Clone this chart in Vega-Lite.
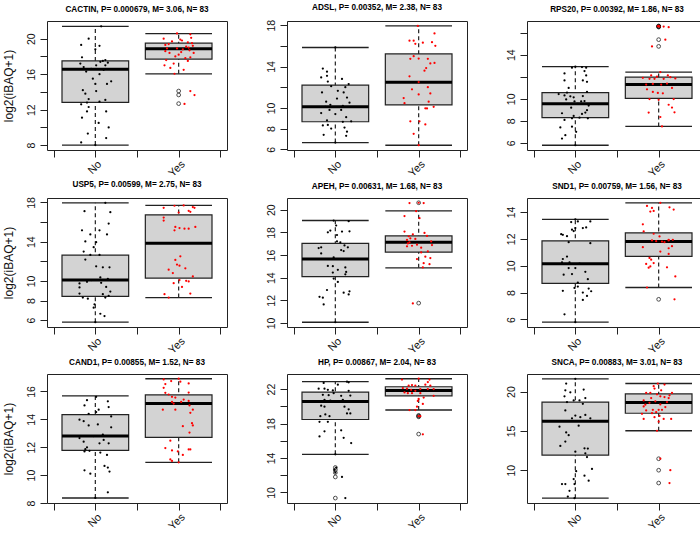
{
"$schema":"https://vega.github.io/schema/vega-lite/v6.json",
"background":"white",
"padding":{"left":1,"top":2,"right":0,"bottom":0},
"config":{
 "font":"Liberation Sans",
 "view":{"stroke":"#222","strokeWidth":1},
 "axis":{"domain":false,"grid":false,"tickColor":"#222","tickSize":7,"tickWidth":1,"labelColor":"#111","labelFont":"Liberation Sans","titleFont":"Liberation Sans","titleFontWeight":"normal","titleColor":"#111"},
 "axisX":{"labelAngle":-45,"labelFontSize":11,"labelPadding":1},
 "axisY":{"labelAngle":-90,"labelFontSize":10.5,"labelPadding":4,"titleFontSize":12,"titlePadding":11},
 "title":{"font":"Liberation Sans","fontSize":8.2,"fontWeight":"bold","color":"#000","offset":7,"anchor":"middle"}
},
"datasets":{
"box":[
{"g":"CACTIN","s":"No","lo":8.0,"q1":12.83,"med":16.57,"q3":17.51,"hi":21.4},
{"g":"CACTIN","s":"Yes","lo":16.04,"q1":17.7,"med":18.87,"q3":19.5,"hi":20.57},
{"g":"ADSL","s":"No","lo":6.65,"q1":8.66,"med":10.12,"q3":12.2,"hi":15.84},
{"g":"ADSL","s":"Yes","lo":6.39,"q1":10.29,"med":12.49,"q3":15.22,"hi":17.92},
{"g":"RPS20","s":"No","lo":5.79,"q1":8.29,"med":9.55,"q3":10.56,"hi":12.91},
{"g":"RPS20","s":"Yes","lo":7.5,"q1":10.04,"med":11.29,"q3":11.96,"hi":12.42},
{"g":"USP5","s":"No","lo":5.79,"q1":8.43,"med":10.08,"q3":12.62,"hi":17.96},
{"g":"USP5","s":"Yes","lo":8.3,"q1":10.29,"med":13.85,"q3":16.73,"hi":17.69},
{"g":"APEH","s":"No","lo":10.06,"q1":14.1,"med":15.64,"q3":17.03,"hi":19.05},
{"g":"APEH","s":"Yes","lo":14.87,"q1":16.26,"med":17.12,"q3":17.69,"hi":19.91},
{"g":"SND1","s":"No","lo":5.8,"q1":8.68,"med":10.15,"q3":11.85,"hi":13.45},
{"g":"SND1","s":"Yes","lo":8.38,"q1":10.7,"med":11.8,"q3":12.45,"hi":14.68},
{"g":"CAND1","s":"No","lo":8.36,"q1":11.77,"med":12.8,"q3":14.33,"hi":15.68},
{"g":"CAND1","s":"Yes","lo":10.92,"q1":12.71,"med":15.13,"q3":15.75,"hi":16.91},
{"g":"HP","s":"No","lo":14.43,"q1":18.47,"med":20.55,"q3":21.65,"hi":22.86},
{"g":"HP","s":"Yes","lo":19.57,"q1":21.22,"med":21.84,"q3":22.27,"hi":23.2},
{"g":"SNCA","s":"No","lo":6.44,"q1":11.93,"med":16.22,"q3":18.67,"hi":21.63},
{"g":"SNCA","s":"Yes","lo":15.02,"q1":17.25,"med":18.63,"q3":19.7,"hi":21.03}
],
"out":[
{"g":"CACTIN","s":"Yes","v":14.1},{"g":"CACTIN","s":"Yes","v":13.66},{"g":"CACTIN","s":"Yes","v":12.68},
{"g":"RPS20","s":"Yes","v":16.6},{"g":"RPS20","s":"Yes","v":16.57},{"g":"RPS20","s":"Yes","v":16.54},{"g":"RPS20","s":"Yes","v":16.5},{"g":"RPS20","s":"Yes","v":15.36},{"g":"RPS20","s":"Yes","v":14.75},
{"g":"APEH","s":"Yes","v":20.62},{"g":"APEH","s":"Yes","v":11.75},
{"g":"SND1","s":"Yes","v":7.5},
{"g":"HP","s":"No","v":12.9},{"g":"HP","s":"No","v":12.63},{"g":"HP","s":"No","v":12.31},{"g":"HP","s":"No","v":11.8},{"g":"HP","s":"No","v":9.35},
{"g":"HP","s":"Yes","v":18.95},{"g":"HP","s":"Yes","v":18.86},{"g":"HP","s":"Yes","v":18.78},{"g":"HP","s":"Yes","v":16.78},
{"g":"SNCA","s":"Yes","v":11.46},{"g":"SNCA","s":"Yes","v":10.0},{"g":"SNCA","s":"Yes","v":8.37}
],
"pts":[
{"g":"CACTIN","s":"No","v":21.4,"j":0.07},{"g":"CACTIN","s":"No","v":20.0,"j":-0.08},{"g":"CACTIN","s":"No","v":19.3,"j":-0.17},{"g":"CACTIN","s":"No","v":19.2,"j":0.05},{"g":"CACTIN","s":"No","v":18.8,"j":0.0},{"g":"CACTIN","s":"No","v":17.9,"j":-0.16},{"g":"CACTIN","s":"No","v":17.6,"j":0.12},{"g":"CACTIN","s":"No","v":17.5,"j":0.09},{"g":"CACTIN","s":"No","v":17.4,"j":0.06},{"g":"CACTIN","s":"No","v":17.2,"j":-0.18},{"g":"CACTIN","s":"No","v":17.0,"j":0.01},{"g":"CACTIN","s":"No","v":17.0,"j":0.12},{"g":"CACTIN","s":"No","v":16.6,"j":-0.05},{"g":"CACTIN","s":"No","v":16.5,"j":0.1},{"g":"CACTIN","s":"No","v":16.3,"j":-0.11},{"g":"CACTIN","s":"No","v":15.2,"j":0.19},{"g":"CACTIN","s":"No","v":14.9,"j":0.0},{"g":"CACTIN","s":"No","v":14.9,"j":0.14},{"g":"CACTIN","s":"No","v":14.2,"j":-0.15},{"g":"CACTIN","s":"No","v":14.1,"j":0.01},{"g":"CACTIN","s":"No","v":13.2,"j":-0.08},{"g":"CACTIN","s":"No","v":13.1,"j":0.12},{"g":"CACTIN","s":"No","v":12.9,"j":0.05},{"g":"CACTIN","s":"No","v":12.8,"j":-0.1},{"g":"CACTIN","s":"No","v":12.6,"j":-0.17},{"g":"CACTIN","s":"No","v":12.3,"j":-0.08},{"g":"CACTIN","s":"No","v":11.8,"j":-0.1},{"g":"CACTIN","s":"No","v":11.8,"j":0.13},{"g":"CACTIN","s":"No","v":11.1,"j":-0.16},{"g":"CACTIN","s":"No","v":10.0,"j":0.16},{"g":"CACTIN","s":"No","v":9.3,"j":-0.09},{"g":"CACTIN","s":"No","v":8.8,"j":0.13},{"g":"CACTIN","s":"No","v":8.3,"j":-0.17},{"g":"CACTIN","s":"No","v":8.0,"j":0.0},{"g":"CACTIN","s":"No","v":16.0,"j":0.05},{"g":"CACTIN","s":"No","v":15.5,"j":-0.03},{"g":"CACTIN","s":"No","v":17.3,"j":0.15},{"g":"CACTIN","s":"No","v":13.8,"j":-0.12},{"g":"CACTIN","s":"No","v":16.8,"j":-0.14},{"g":"CACTIN","s":"No","v":10.5,"j":0.04},
{"g":"CACTIN","s":"Yes","v":20.6,"j":-0.02},{"g":"CACTIN","s":"Yes","v":20.5,"j":0.14},{"g":"CACTIN","s":"Yes","v":20.1,"j":0.15},{"g":"CACTIN","s":"Yes","v":20.0,"j":-0.18},{"g":"CACTIN","s":"Yes","v":19.9,"j":0.02},{"g":"CACTIN","s":"Yes","v":19.7,"j":-0.08},{"g":"CACTIN","s":"Yes","v":19.6,"j":0.11},{"g":"CACTIN","s":"Yes","v":19.5,"j":0.16},{"g":"CACTIN","s":"Yes","v":19.4,"j":-0.12},{"g":"CACTIN","s":"Yes","v":19.3,"j":-0.16},{"g":"CACTIN","s":"Yes","v":19.1,"j":0.09},{"g":"CACTIN","s":"Yes","v":18.9,"j":-0.02},{"g":"CACTIN","s":"Yes","v":18.8,"j":0.05},{"g":"CACTIN","s":"Yes","v":18.7,"j":0.13},{"g":"CACTIN","s":"Yes","v":18.6,"j":-0.16},{"g":"CACTIN","s":"Yes","v":18.4,"j":0.18},{"g":"CACTIN","s":"Yes","v":18.4,"j":-0.11},{"g":"CACTIN","s":"Yes","v":18.2,"j":0.0},{"g":"CACTIN","s":"Yes","v":18.0,"j":-0.04},{"g":"CACTIN","s":"Yes","v":17.8,"j":0.08},{"g":"CACTIN","s":"Yes","v":17.6,"j":-0.15},{"g":"CACTIN","s":"Yes","v":17.5,"j":0.11},{"g":"CACTIN","s":"Yes","v":17.2,"j":-0.06},{"g":"CACTIN","s":"Yes","v":17.0,"j":-0.17},{"g":"CACTIN","s":"Yes","v":16.7,"j":-0.1},{"g":"CACTIN","s":"Yes","v":16.5,"j":0.06},{"g":"CACTIN","s":"Yes","v":16.05,"j":-0.05},{"g":"CACTIN","s":"Yes","v":14.1,"j":0.14},{"g":"CACTIN","s":"Yes","v":13.65,"j":0.19},{"g":"CACTIN","s":"Yes","v":12.65,"j":0.07},{"g":"CACTIN","s":"Yes","v":19.0,"j":0.12},{"g":"CACTIN","s":"Yes","v":18.9,"j":-0.14},{"g":"CACTIN","s":"Yes","v":19.8,"j":0.04},{"g":"CACTIN","s":"Yes","v":18.5,"j":0.03},{"g":"CACTIN","s":"Yes","v":19.2,"j":0.17},{"g":"CACTIN","s":"Yes","v":17.9,"j":0.14},
{"g":"ADSL","s":"No","v":15.84,"j":0.0},{"g":"ADSL","s":"No","v":13.8,"j":-0.15},{"g":"ADSL","s":"No","v":13.5,"j":-0.1},{"g":"ADSL","s":"No","v":12.95,"j":-0.17},{"g":"ADSL","s":"No","v":13.1,"j":-0.1},{"g":"ADSL","s":"No","v":12.8,"j":0.08},{"g":"ADSL","s":"No","v":12.55,"j":-0.09},{"g":"ADSL","s":"No","v":12.3,"j":0.16},{"g":"ADSL","s":"No","v":12.1,"j":-0.05},{"g":"ADSL","s":"No","v":11.65,"j":0.03},{"g":"ADSL","s":"No","v":11.5,"j":-0.16},{"g":"ADSL","s":"No","v":11.5,"j":0.1},{"g":"ADSL","s":"No","v":10.9,"j":0.02},{"g":"ADSL","s":"No","v":10.6,"j":-0.11},{"g":"ADSL","s":"No","v":10.5,"j":0.17},{"g":"ADSL","s":"No","v":10.3,"j":-0.06},{"g":"ADSL","s":"No","v":10.2,"j":0.09},{"g":"ADSL","s":"No","v":9.8,"j":-0.07},{"g":"ADSL","s":"No","v":9.8,"j":0.07},{"g":"ADSL","s":"No","v":9.5,"j":-0.17},{"g":"ADSL","s":"No","v":9.4,"j":0.0},{"g":"ADSL","s":"No","v":9.1,"j":0.13},{"g":"ADSL","s":"No","v":8.8,"j":-0.1},{"g":"ADSL","s":"No","v":8.7,"j":0.19},{"g":"ADSL","s":"No","v":8.65,"j":0.09},{"g":"ADSL","s":"No","v":8.35,"j":-0.09},{"g":"ADSL","s":"No","v":8.3,"j":-0.15},{"g":"ADSL","s":"No","v":8.0,"j":-0.05},{"g":"ADSL","s":"No","v":8.1,"j":0.11},{"g":"ADSL","s":"No","v":7.7,"j":0.14},{"g":"ADSL","s":"No","v":7.4,"j":-0.14},{"g":"ADSL","s":"No","v":7.3,"j":0.13},{"g":"ADSL","s":"No","v":6.65,"j":0.0},{"g":"ADSL","s":"No","v":10.1,"j":-0.12},{"g":"ADSL","s":"No","v":11.0,"j":0.14},{"g":"ADSL","s":"No","v":12.0,"j":0.12},
{"g":"ADSL","s":"Yes","v":17.92,"j":-0.01},{"g":"ADSL","s":"Yes","v":17.2,"j":0.19},{"g":"ADSL","s":"Yes","v":16.5,"j":-0.11},{"g":"ADSL","s":"Yes","v":16.5,"j":-0.06},{"g":"ADSL","s":"Yes","v":16.2,"j":-0.04},{"g":"ADSL","s":"Yes","v":16.3,"j":0.05},{"g":"ADSL","s":"Yes","v":16.35,"j":0.16},{"g":"ADSL","s":"Yes","v":16.0,"j":0.2},{"g":"ADSL","s":"Yes","v":15.0,"j":-0.06},{"g":"ADSL","s":"Yes","v":14.75,"j":-0.1},{"g":"ADSL","s":"Yes","v":14.77,"j":0.0},{"g":"ADSL","s":"Yes","v":14.75,"j":0.11},{"g":"ADSL","s":"Yes","v":14.3,"j":0.14},{"g":"ADSL","s":"Yes","v":14.35,"j":0.19},{"g":"ADSL","s":"Yes","v":13.85,"j":0.09},{"g":"ADSL","s":"Yes","v":13.6,"j":0.07},{"g":"ADSL","s":"Yes","v":13.05,"j":-0.11},{"g":"ADSL","s":"Yes","v":12.5,"j":0.0},{"g":"ADSL","s":"Yes","v":12.0,"j":0.11},{"g":"ADSL","s":"Yes","v":11.8,"j":-0.08},{"g":"ADSL","s":"Yes","v":11.4,"j":0.14},{"g":"ADSL","s":"Yes","v":11.3,"j":0.0},{"g":"ADSL","s":"Yes","v":10.95,"j":-0.18},{"g":"ADSL","s":"Yes","v":10.45,"j":-0.17},{"g":"ADSL","s":"Yes","v":10.6,"j":0.12},{"g":"ADSL","s":"Yes","v":9.96,"j":0.08},{"g":"ADSL","s":"Yes","v":9.95,"j":0.1},{"g":"ADSL","s":"Yes","v":10.1,"j":0.18},{"g":"ADSL","s":"Yes","v":8.7,"j":-0.1},{"g":"ADSL","s":"Yes","v":8.7,"j":0.01},{"g":"ADSL","s":"Yes","v":8.4,"j":0.08},{"g":"ADSL","s":"Yes","v":7.5,"j":-0.06},{"g":"ADSL","s":"Yes","v":6.4,"j":0.0},
{"g":"RPS20","s":"No","v":12.82,"j":-0.04},{"g":"RPS20","s":"No","v":12.88,"j":0.08},{"g":"RPS20","s":"No","v":12.82,"j":0.13},{"g":"RPS20","s":"No","v":12.3,"j":-0.13},{"g":"RPS20","s":"No","v":12.51,"j":0.11},{"g":"RPS20","s":"No","v":12.12,"j":0.13},{"g":"RPS20","s":"No","v":11.66,"j":-0.13},{"g":"RPS20","s":"No","v":11.66,"j":0.09},{"g":"RPS20","s":"No","v":11.54,"j":0.14},{"g":"RPS20","s":"No","v":10.98,"j":-0.08},{"g":"RPS20","s":"No","v":10.62,"j":0.14},{"g":"RPS20","s":"No","v":10.43,"j":-0.2},{"g":"RPS20","s":"No","v":10.31,"j":-0.13},{"g":"RPS20","s":"No","v":10.22,"j":-0.06},{"g":"RPS20","s":"No","v":10.13,"j":-0.02},{"g":"RPS20","s":"No","v":10.25,"j":0.09},{"g":"RPS20","s":"No","v":9.94,"j":-0.11},{"g":"RPS20","s":"No","v":9.76,"j":-0.01},{"g":"RPS20","s":"No","v":9.76,"j":0.07},{"g":"RPS20","s":"No","v":9.79,"j":0.11},{"g":"RPS20","s":"No","v":9.39,"j":0.16},{"g":"RPS20","s":"No","v":8.97,"j":0.14},{"g":"RPS20","s":"No","v":8.69,"j":-0.16},{"g":"RPS20","s":"No","v":8.75,"j":0.12},{"g":"RPS20","s":"No","v":8.63,"j":0.08},{"g":"RPS20","s":"No","v":8.45,"j":-0.02},{"g":"RPS20","s":"No","v":8.29,"j":0.05},{"g":"RPS20","s":"No","v":8.23,"j":0.15},{"g":"RPS20","s":"No","v":8.08,"j":-0.13},{"g":"RPS20","s":"No","v":8.23,"j":-0.04},{"g":"RPS20","s":"No","v":7.41,"j":-0.18},{"g":"RPS20","s":"No","v":7.47,"j":-0.04},{"g":"RPS20","s":"No","v":7.01,"j":0.01},{"g":"RPS20","s":"No","v":6.7,"j":-0.12},{"g":"RPS20","s":"No","v":6.4,"j":-0.16},{"g":"RPS20","s":"No","v":5.79,"j":0.0},{"g":"RPS20","s":"No","v":9.55,"j":0.03},{"g":"RPS20","s":"No","v":10.56,"j":-0.1},{"g":"RPS20","s":"No","v":12.91,"j":0.0},{"g":"RPS20","s":"No","v":9.2,"j":-0.05},
{"g":"RPS20","s":"Yes","v":16.6,"j":0.0},{"g":"RPS20","s":"Yes","v":16.57,"j":-0.01},{"g":"RPS20","s":"Yes","v":16.54,"j":0.01},{"g":"RPS20","s":"Yes","v":16.55,"j":0.06},{"g":"RPS20","s":"Yes","v":16.49,"j":0.12},{"g":"RPS20","s":"Yes","v":15.36,"j":0.08},{"g":"RPS20","s":"Yes","v":14.75,"j":-0.08},{"g":"RPS20","s":"Yes","v":12.42,"j":0.02},{"g":"RPS20","s":"Yes","v":12.12,"j":-0.09},{"g":"RPS20","s":"Yes","v":11.9,"j":-0.19},{"g":"RPS20","s":"Yes","v":12.12,"j":0.11},{"g":"RPS20","s":"Yes","v":11.81,"j":-0.11},{"g":"RPS20","s":"Yes","v":11.81,"j":-0.05},{"g":"RPS20","s":"Yes","v":11.81,"j":0.06},{"g":"RPS20","s":"Yes","v":11.84,"j":0.2},{"g":"RPS20","s":"Yes","v":11.29,"j":-0.15},{"g":"RPS20","s":"Yes","v":11.35,"j":-0.07},{"g":"RPS20","s":"Yes","v":11.38,"j":0.1},{"g":"RPS20","s":"Yes","v":10.98,"j":0.16},{"g":"RPS20","s":"Yes","v":10.86,"j":-0.14},{"g":"RPS20","s":"Yes","v":10.62,"j":-0.07},{"g":"RPS20","s":"Yes","v":10.53,"j":-0.01},{"g":"RPS20","s":"Yes","v":10.5,"j":0.05},{"g":"RPS20","s":"Yes","v":9.98,"j":-0.11},{"g":"RPS20","s":"Yes","v":9.91,"j":0.0},{"g":"RPS20","s":"Yes","v":9.98,"j":0.18},{"g":"RPS20","s":"Yes","v":9.46,"j":0.12},{"g":"RPS20","s":"Yes","v":9.21,"j":0.16},{"g":"RPS20","s":"Yes","v":8.75,"j":-0.12},{"g":"RPS20","s":"Yes","v":8.78,"j":0.19},{"g":"RPS20","s":"Yes","v":8.35,"j":0.02},{"g":"RPS20","s":"Yes","v":7.5,"j":0.04},{"g":"RPS20","s":"Yes","v":11.29,"j":0.03},{"g":"RPS20","s":"Yes","v":11.96,"j":0.14},{"g":"RPS20","s":"Yes","v":12.0,"j":-0.02},
{"g":"USP5","s":"No","v":17.96,"j":0.12},{"g":"USP5","s":"No","v":17.11,"j":-0.13},{"g":"USP5","s":"No","v":17.0,"j":0.18},{"g":"USP5","s":"No","v":15.84,"j":0.16},{"g":"USP5","s":"No","v":15.15,"j":-0.16},{"g":"USP5","s":"No","v":15.15,"j":0.05},{"g":"USP5","s":"No","v":14.74,"j":0.14},{"g":"USP5","s":"No","v":14.74,"j":-0.06},{"g":"USP5","s":"No","v":14.02,"j":-0.12},{"g":"USP5","s":"No","v":13.95,"j":0.01},{"g":"USP5","s":"No","v":13.44,"j":-0.02},{"g":"USP5","s":"No","v":12.99,"j":-0.14},{"g":"USP5","s":"No","v":12.65,"j":-0.06},{"g":"USP5","s":"No","v":12.65,"j":0.05},{"g":"USP5","s":"No","v":12.17,"j":-0.12},{"g":"USP5","s":"No","v":11.49,"j":0.01},{"g":"USP5","s":"No","v":11.38,"j":0.09},{"g":"USP5","s":"No","v":11.38,"j":0.17},{"g":"USP5","s":"No","v":10.35,"j":0.06},{"g":"USP5","s":"No","v":9.81,"j":0.07},{"g":"USP5","s":"No","v":9.74,"j":-0.19},{"g":"USP5","s":"No","v":9.39,"j":0.13},{"g":"USP5","s":"No","v":9.33,"j":-0.19},{"g":"USP5","s":"No","v":8.91,"j":0.18},{"g":"USP5","s":"No","v":8.71,"j":-0.19},{"g":"USP5","s":"No","v":8.64,"j":0.09},{"g":"USP5","s":"No","v":8.3,"j":-0.15},{"g":"USP5","s":"No","v":8.19,"j":-0.09},{"g":"USP5","s":"No","v":8.3,"j":0.12},{"g":"USP5","s":"No","v":8.47,"j":0.16},{"g":"USP5","s":"No","v":7.61,"j":-0.01},{"g":"USP5","s":"No","v":7.27,"j":-0.02},{"g":"USP5","s":"No","v":6.65,"j":0.06},{"g":"USP5","s":"No","v":6.41,"j":0.11},{"g":"USP5","s":"No","v":5.79,"j":0.0},{"g":"USP5","s":"No","v":10.08,"j":-0.05},{"g":"USP5","s":"No","v":10.2,"j":0.15},{"g":"USP5","s":"No","v":9.9,"j":-0.1},
{"g":"USP5","s":"Yes","v":17.52,"j":0.17},{"g":"USP5","s":"Yes","v":17.66,"j":-0.05},{"g":"USP5","s":"Yes","v":17.45,"j":-0.18},{"g":"USP5","s":"Yes","v":16.97,"j":0.0},{"g":"USP5","s":"Yes","v":17.14,"j":0.12},{"g":"USP5","s":"Yes","v":17.04,"j":0.14},{"g":"USP5","s":"Yes","v":17.45,"j":0.19},{"g":"USP5","s":"Yes","v":16.46,"j":-0.18},{"g":"USP5","s":"Yes","v":16.15,"j":-0.18},{"g":"USP5","s":"Yes","v":15.5,"j":-0.04},{"g":"USP5","s":"Yes","v":15.15,"j":-0.05},{"g":"USP5","s":"Yes","v":15.39,"j":0.01},{"g":"USP5","s":"Yes","v":15.32,"j":0.07},{"g":"USP5","s":"Yes","v":15.32,"j":0.12},{"g":"USP5","s":"Yes","v":15.5,"j":0.2},{"g":"USP5","s":"Yes","v":12.51,"j":0.02},{"g":"USP5","s":"Yes","v":12.14,"j":-0.04},{"g":"USP5","s":"Yes","v":11.66,"j":-0.02},{"g":"USP5","s":"Yes","v":11.55,"j":0.01},{"g":"USP5","s":"Yes","v":11.14,"j":-0.12},{"g":"USP5","s":"Yes","v":11.28,"j":0.08},{"g":"USP5","s":"Yes","v":10.8,"j":-0.07},{"g":"USP5","s":"Yes","v":10.46,"j":0.17},{"g":"USP5","s":"Yes","v":10.08,"j":0.01},{"g":"USP5","s":"Yes","v":10.01,"j":0.09},{"g":"USP5","s":"Yes","v":9.94,"j":0.12},{"g":"USP5","s":"Yes","v":9.77,"j":-0.06},{"g":"USP5","s":"Yes","v":9.39,"j":0.04},{"g":"USP5","s":"Yes","v":8.64,"j":-0.17},{"g":"USP5","s":"Yes","v":8.71,"j":0.14},{"g":"USP5","s":"Yes","v":8.3,"j":-0.12},{"g":"USP5","s":"Yes","v":17.69,"j":0.06},
{"g":"APEH","s":"No","v":18.99,"j":0.16},{"g":"APEH","s":"No","v":18.61,"j":0.01},{"g":"APEH","s":"No","v":18.01,"j":-0.09},{"g":"APEH","s":"No","v":18.16,"j":-0.06},{"g":"APEH","s":"No","v":18.07,"j":0.08},{"g":"APEH","s":"No","v":18.1,"j":0.17},{"g":"APEH","s":"No","v":17.77,"j":0.02},{"g":"APEH","s":"No","v":17.21,"j":0.02},{"g":"APEH","s":"No","v":17.12,"j":0.06},{"g":"APEH","s":"No","v":16.85,"j":0.11},{"g":"APEH","s":"No","v":16.62,"j":-0.2},{"g":"APEH","s":"No","v":16.68,"j":-0.17},{"g":"APEH","s":"No","v":16.68,"j":0.15},{"g":"APEH","s":"No","v":16.44,"j":0.07},{"g":"APEH","s":"No","v":16.35,"j":0.1},{"g":"APEH","s":"No","v":16.14,"j":-0.17},{"g":"APEH","s":"No","v":15.79,"j":-0.02},{"g":"APEH","s":"No","v":15.04,"j":-0.09},{"g":"APEH","s":"No","v":15.01,"j":-0.03},{"g":"APEH","s":"No","v":14.9,"j":0.12},{"g":"APEH","s":"No","v":14.69,"j":0.03},{"g":"APEH","s":"No","v":14.51,"j":0.13},{"g":"APEH","s":"No","v":14.45,"j":-0.03},{"g":"APEH","s":"No","v":14.3,"j":0.12},{"g":"APEH","s":"No","v":13.92,"j":-0.02},{"g":"APEH","s":"No","v":13.62,"j":0.03},{"g":"APEH","s":"No","v":12.91,"j":-0.1},{"g":"APEH","s":"No","v":12.67,"j":0.1},{"g":"APEH","s":"No","v":12.79,"j":0.17},{"g":"APEH","s":"No","v":12.52,"j":0.16},{"g":"APEH","s":"No","v":12.31,"j":-0.19},{"g":"APEH","s":"No","v":12.23,"j":-0.15},{"g":"APEH","s":"No","v":11.63,"j":-0.14},{"g":"APEH","s":"No","v":10.06,"j":0.0},{"g":"APEH","s":"No","v":19.05,"j":-0.02},
{"g":"APEH","s":"Yes","v":20.59,"j":-0.11},{"g":"APEH","s":"Yes","v":20.59,"j":0.06},{"g":"APEH","s":"Yes","v":20.62,"j":0.0},{"g":"APEH","s":"Yes","v":19.88,"j":-0.03},{"g":"APEH","s":"Yes","v":19.44,"j":-0.17},{"g":"APEH","s":"Yes","v":19.26,"j":0.01},{"g":"APEH","s":"Yes","v":18.07,"j":-0.17},{"g":"APEH","s":"Yes","v":17.95,"j":0.07},{"g":"APEH","s":"Yes","v":17.83,"j":-0.07},{"g":"APEH","s":"Yes","v":17.66,"j":-0.12},{"g":"APEH","s":"Yes","v":17.48,"j":-0.1},{"g":"APEH","s":"Yes","v":17.42,"j":-0.04},{"g":"APEH","s":"Yes","v":17.33,"j":-0.14},{"g":"APEH","s":"Yes","v":17.12,"j":-0.11},{"g":"APEH","s":"Yes","v":17.03,"j":-0.13},{"g":"APEH","s":"Yes","v":16.82,"j":-0.08},{"g":"APEH","s":"Yes","v":16.77,"j":-0.14},{"g":"APEH","s":"Yes","v":16.91,"j":-0.02},{"g":"APEH","s":"Yes","v":16.88,"j":0.16},{"g":"APEH","s":"Yes","v":16.65,"j":0.03},{"g":"APEH","s":"Yes","v":16.32,"j":0.11},{"g":"APEH","s":"Yes","v":16.23,"j":0.03},{"g":"APEH","s":"Yes","v":15.85,"j":0.08},{"g":"APEH","s":"Yes","v":15.64,"j":-0.02},{"g":"APEH","s":"Yes","v":15.73,"j":0.14},{"g":"APEH","s":"Yes","v":15.28,"j":0.06},{"g":"APEH","s":"Yes","v":15.19,"j":0.13},{"g":"APEH","s":"Yes","v":14.9,"j":0.05},{"g":"APEH","s":"Yes","v":11.72,"j":-0.07},{"g":"APEH","s":"Yes","v":17.69,"j":0.1},{"g":"APEH","s":"Yes","v":17.2,"j":0.15},
{"g":"SND1","s":"No","v":5.8,"j":0.0},{"g":"SND1","s":"No","v":6.38,"j":-0.13},{"g":"SND1","s":"No","v":7.45,"j":0.09},{"g":"SND1","s":"No","v":7.75,"j":0.14},{"g":"SND1","s":"No","v":8.0,"j":0.09},{"g":"SND1","s":"No","v":8.1,"j":0.19},{"g":"SND1","s":"No","v":8.3,"j":0.16},{"g":"SND1","s":"No","v":8.13,"j":-0.15},{"g":"SND1","s":"No","v":8.35,"j":-0.01},{"g":"SND1","s":"No","v":8.45,"j":0.03},{"g":"SND1","s":"No","v":9.0,"j":0.15},{"g":"SND1","s":"No","v":8.75,"j":0.03},{"g":"SND1","s":"No","v":9.33,"j":-0.14},{"g":"SND1","s":"No","v":9.38,"j":-0.04},{"g":"SND1","s":"No","v":9.55,"j":0.12},{"g":"SND1","s":"No","v":9.83,"j":-0.08},{"g":"SND1","s":"No","v":9.83,"j":0.0},{"g":"SND1","s":"No","v":10.25,"j":-0.16},{"g":"SND1","s":"No","v":10.25,"j":-0.07},{"g":"SND1","s":"No","v":10.5,"j":-0.15},{"g":"SND1","s":"No","v":10.68,"j":-0.1},{"g":"SND1","s":"No","v":11.68,"j":0.18},{"g":"SND1","s":"No","v":11.75,"j":-0.08},{"g":"SND1","s":"No","v":12.2,"j":-0.1},{"g":"SND1","s":"No","v":12.3,"j":-0.15},{"g":"SND1","s":"No","v":12.35,"j":-0.17},{"g":"SND1","s":"No","v":12.68,"j":-0.04},{"g":"SND1","s":"No","v":12.8,"j":0.0},{"g":"SND1","s":"No","v":12.8,"j":0.09},{"g":"SND1","s":"No","v":12.85,"j":0.13},{"g":"SND1","s":"No","v":12.58,"j":-0.02},{"g":"SND1","s":"No","v":13.25,"j":-0.05},{"g":"SND1","s":"No","v":13.3,"j":0.03},{"g":"SND1","s":"No","v":13.3,"j":0.18},{"g":"SND1","s":"No","v":13.45,"j":0.0},{"g":"SND1","s":"No","v":10.15,"j":0.05},
{"g":"SND1","s":"Yes","v":14.68,"j":0.02},{"g":"SND1","s":"Yes","v":14.45,"j":-0.14},{"g":"SND1","s":"Yes","v":14.3,"j":-0.08},{"g":"SND1","s":"Yes","v":14.08,"j":-0.06},{"g":"SND1","s":"Yes","v":14.03,"j":-0.1},{"g":"SND1","s":"Yes","v":14.35,"j":0.13},{"g":"SND1","s":"Yes","v":14.18,"j":0.18},{"g":"SND1","s":"Yes","v":13.08,"j":-0.19},{"g":"SND1","s":"Yes","v":12.55,"j":-0.18},{"g":"SND1","s":"Yes","v":12.38,"j":-0.06},{"g":"SND1","s":"Yes","v":12.18,"j":0.01},{"g":"SND1","s":"Yes","v":11.93,"j":0.12},{"g":"SND1","s":"Yes","v":11.88,"j":0.12},{"g":"SND1","s":"Yes","v":11.93,"j":0.17},{"g":"SND1","s":"Yes","v":11.88,"j":-0.08},{"g":"SND1","s":"Yes","v":11.83,"j":-0.03},{"g":"SND1","s":"Yes","v":11.8,"j":0.04},{"g":"SND1","s":"Yes","v":11.75,"j":0.07},{"g":"SND1","s":"Yes","v":11.38,"j":-0.19},{"g":"SND1","s":"Yes","v":11.45,"j":0.16},{"g":"SND1","s":"Yes","v":11.3,"j":0.12},{"g":"SND1","s":"Yes","v":11.05,"j":0.02},{"g":"SND1","s":"Yes","v":10.88,"j":0.12},{"g":"SND1","s":"Yes","v":10.58,"j":-0.11},{"g":"SND1","s":"Yes","v":10.45,"j":-0.09},{"g":"SND1","s":"Yes","v":10.13,"j":-0.15},{"g":"SND1","s":"Yes","v":10.2,"j":-0.06},{"g":"SND1","s":"Yes","v":9.95,"j":-0.1},{"g":"SND1","s":"Yes","v":9.85,"j":-0.12},{"g":"SND1","s":"Yes","v":9.88,"j":0.1},{"g":"SND1","s":"Yes","v":9.2,"j":0.2},{"g":"SND1","s":"Yes","v":8.38,"j":-0.14},{"g":"SND1","s":"Yes","v":7.5,"j":0.19},
{"g":"CAND1","s":"No","v":15.61,"j":0.01},{"g":"CAND1","s":"No","v":15.37,"j":-0.1},{"g":"CAND1","s":"No","v":15.29,"j":0.15},{"g":"CAND1","s":"No","v":15.0,"j":-0.13},{"g":"CAND1","s":"No","v":14.88,"j":0.16},{"g":"CAND1","s":"No","v":14.52,"j":0.01},{"g":"CAND1","s":"No","v":14.69,"j":0.04},{"g":"CAND1","s":"No","v":14.4,"j":-0.08},{"g":"CAND1","s":"No","v":14.21,"j":0.19},{"g":"CAND1","s":"No","v":13.97,"j":-0.19},{"g":"CAND1","s":"No","v":13.87,"j":-0.14},{"g":"CAND1","s":"No","v":13.56,"j":-0.08},{"g":"CAND1","s":"No","v":13.63,"j":0.03},{"g":"CAND1","s":"No","v":13.43,"j":0.19},{"g":"CAND1","s":"No","v":12.66,"j":-0.19},{"g":"CAND1","s":"No","v":12.4,"j":-0.14},{"g":"CAND1","s":"No","v":12.52,"j":0.1},{"g":"CAND1","s":"No","v":12.28,"j":0.05},{"g":"CAND1","s":"No","v":12.28,"j":0.16},{"g":"CAND1","s":"No","v":11.99,"j":-0.1},{"g":"CAND1","s":"No","v":11.86,"j":-0.12},{"g":"CAND1","s":"No","v":11.62,"j":0.06},{"g":"CAND1","s":"No","v":11.45,"j":0.14},{"g":"CAND1","s":"No","v":10.66,"j":0.11},{"g":"CAND1","s":"No","v":10.54,"j":0.15},{"g":"CAND1","s":"No","v":10.25,"j":0.17},{"g":"CAND1","s":"No","v":10.34,"j":-0.13},{"g":"CAND1","s":"No","v":10.1,"j":-0.06},{"g":"CAND1","s":"No","v":8.77,"j":0.15},{"g":"CAND1","s":"No","v":8.36,"j":0.0},{"g":"CAND1","s":"No","v":11.74,"j":-0.07},{"g":"CAND1","s":"No","v":11.7,"j":-0.13},{"g":"CAND1","s":"No","v":12.8,"j":-0.02},{"g":"CAND1","s":"No","v":12.9,"j":0.09},
{"g":"CAND1","s":"Yes","v":16.91,"j":0.0},{"g":"CAND1","s":"Yes","v":16.86,"j":-0.18},{"g":"CAND1","s":"Yes","v":16.74,"j":-0.09},{"g":"CAND1","s":"Yes","v":16.53,"j":-0.16},{"g":"CAND1","s":"Yes","v":16.57,"j":0.12},{"g":"CAND1","s":"Yes","v":16.26,"j":-0.18},{"g":"CAND1","s":"Yes","v":16.7,"j":0.02},{"g":"CAND1","s":"Yes","v":15.9,"j":-0.16},{"g":"CAND1","s":"Yes","v":15.78,"j":-0.12},{"g":"CAND1","s":"Yes","v":15.92,"j":0.12},{"g":"CAND1","s":"Yes","v":15.61,"j":-0.08},{"g":"CAND1","s":"Yes","v":15.56,"j":-0.04},{"g":"CAND1","s":"Yes","v":15.42,"j":0.06},{"g":"CAND1","s":"Yes","v":15.32,"j":0.12},{"g":"CAND1","s":"Yes","v":15.25,"j":0.03},{"g":"CAND1","s":"Yes","v":15.25,"j":-0.08},{"g":"CAND1","s":"Yes","v":15.13,"j":-0.06},{"g":"CAND1","s":"Yes","v":15.0,"j":0.13},{"g":"CAND1","s":"Yes","v":14.69,"j":-0.04},{"g":"CAND1","s":"Yes","v":14.69,"j":-0.19},{"g":"CAND1","s":"Yes","v":14.69,"j":0.17},{"g":"CAND1","s":"Yes","v":14.47,"j":0.14},{"g":"CAND1","s":"Yes","v":13.72,"j":0.16},{"g":"CAND1","s":"Yes","v":13.56,"j":0.17},{"g":"CAND1","s":"Yes","v":13.51,"j":0.05},{"g":"CAND1","s":"Yes","v":13.05,"j":0.13},{"g":"CAND1","s":"Yes","v":12.47,"j":-0.1},{"g":"CAND1","s":"Yes","v":11.77,"j":-0.08},{"g":"CAND1","s":"Yes","v":11.94,"j":-0.16},{"g":"CAND1","s":"Yes","v":11.84,"j":0.12},{"g":"CAND1","s":"Yes","v":11.84,"j":0.14},{"g":"CAND1","s":"Yes","v":11.7,"j":-0.01},{"g":"CAND1","s":"Yes","v":11.45,"j":0.05},{"g":"CAND1","s":"Yes","v":11.12,"j":-0.1},{"g":"CAND1","s":"Yes","v":11.02,"j":-0.08},{"g":"CAND1","s":"Yes","v":10.92,"j":0.0},
{"g":"HP","s":"No","v":22.71,"j":-0.14},{"g":"HP","s":"No","v":22.86,"j":0.14},{"g":"HP","s":"No","v":22.78,"j":0.16},{"g":"HP","s":"No","v":22.51,"j":0.03},{"g":"HP","s":"No","v":22.04,"j":-0.2},{"g":"HP","s":"No","v":22.04,"j":-0.13},{"g":"HP","s":"No","v":21.84,"j":-0.03},{"g":"HP","s":"No","v":21.92,"j":-0.09},{"g":"HP","s":"No","v":21.8,"j":0.16},{"g":"HP","s":"No","v":21.33,"j":-0.15},{"g":"HP","s":"No","v":21.29,"j":-0.08},{"g":"HP","s":"No","v":21.53,"j":-0.02},{"g":"HP","s":"No","v":21.22,"j":0.07},{"g":"HP","s":"No","v":21.25,"j":0.18},{"g":"HP","s":"No","v":20.75,"j":-0.13},{"g":"HP","s":"No","v":20.67,"j":-0.06},{"g":"HP","s":"No","v":20.75,"j":0.09},{"g":"HP","s":"No","v":20.08,"j":-0.17},{"g":"HP","s":"No","v":19.96,"j":-0.13},{"g":"HP","s":"No","v":19.96,"j":0.11},{"g":"HP","s":"No","v":19.65,"j":0.16},{"g":"HP","s":"No","v":19.18,"j":0.14},{"g":"HP","s":"No","v":19.18,"j":0.18},{"g":"HP","s":"No","v":19.06,"j":-0.12},{"g":"HP","s":"No","v":18.86,"j":-0.18},{"g":"HP","s":"No","v":18.86,"j":-0.07},{"g":"HP","s":"No","v":18.2,"j":-0.19},{"g":"HP","s":"No","v":18.2,"j":-0.09},{"g":"HP","s":"No","v":17.1,"j":-0.13},{"g":"HP","s":"No","v":17.22,"j":0.07},{"g":"HP","s":"No","v":16.51,"j":-0.19},{"g":"HP","s":"No","v":16.35,"j":0.1},{"g":"HP","s":"No","v":15.73,"j":0.19},{"g":"HP","s":"No","v":14.43,"j":0.0},{"g":"HP","s":"No","v":12.9,"j":0.01},{"g":"HP","s":"No","v":12.63,"j":-0.01},{"g":"HP","s":"No","v":12.31,"j":0.0},{"g":"HP","s":"No","v":11.8,"j":0.08},{"g":"HP","s":"No","v":9.35,"j":0.12},
{"g":"HP","s":"Yes","v":23.1,"j":-0.2},{"g":"HP","s":"Yes","v":23.22,"j":0.0},{"g":"HP","s":"Yes","v":23.1,"j":0.13},{"g":"HP","s":"Yes","v":22.82,"j":0.11},{"g":"HP","s":"Yes","v":22.39,"j":-0.12},{"g":"HP","s":"Yes","v":22.47,"j":-0.08},{"g":"HP","s":"Yes","v":22.39,"j":-0.04},{"g":"HP","s":"Yes","v":22.51,"j":0.08},{"g":"HP","s":"Yes","v":22.39,"j":0.14},{"g":"HP","s":"Yes","v":22.12,"j":-0.19},{"g":"HP","s":"Yes","v":22.04,"j":-0.14},{"g":"HP","s":"Yes","v":21.92,"j":-0.09},{"g":"HP","s":"Yes","v":21.8,"j":-0.04},{"g":"HP","s":"Yes","v":22.0,"j":0.02},{"g":"HP","s":"Yes","v":22.0,"j":0.11},{"g":"HP","s":"Yes","v":22.0,"j":0.18},{"g":"HP","s":"Yes","v":21.61,"j":-0.17},{"g":"HP","s":"Yes","v":21.53,"j":-0.13},{"g":"HP","s":"Yes","v":21.53,"j":-0.08},{"g":"HP","s":"Yes","v":21.53,"j":0.02},{"g":"HP","s":"Yes","v":21.22,"j":0.18},{"g":"HP","s":"Yes","v":20.86,"j":0.0},{"g":"HP","s":"Yes","v":21.02,"j":0.06},{"g":"HP","s":"Yes","v":20.63,"j":-0.01},{"g":"HP","s":"Yes","v":20.27,"j":0.05},{"g":"HP","s":"Yes","v":19.96,"j":-0.02},{"g":"HP","s":"Yes","v":19.57,"j":-0.04},{"g":"HP","s":"Yes","v":19.57,"j":-0.11},{"g":"HP","s":"Yes","v":18.86,"j":0.0},{"g":"HP","s":"Yes","v":18.86,"j":0.02},{"g":"HP","s":"Yes","v":16.75,"j":0.05},
{"g":"SNCA","s":"No","v":21.63,"j":0.0},{"g":"SNCA","s":"No","v":21.03,"j":-0.11},{"g":"SNCA","s":"No","v":20.17,"j":-0.12},{"g":"SNCA","s":"No","v":20.26,"j":0.1},{"g":"SNCA","s":"No","v":19.91,"j":-0.06},{"g":"SNCA","s":"No","v":19.4,"j":-0.13},{"g":"SNCA","s":"No","v":19.18,"j":0.12},{"g":"SNCA","s":"No","v":18.88,"j":-0.02},{"g":"SNCA","s":"No","v":18.67,"j":-0.1},{"g":"SNCA","s":"No","v":18.88,"j":0.05},{"g":"SNCA","s":"No","v":18.45,"j":0.09},{"g":"SNCA","s":"No","v":17.6,"j":-0.12},{"g":"SNCA","s":"No","v":17.04,"j":0.12},{"g":"SNCA","s":"No","v":16.95,"j":0.0},{"g":"SNCA","s":"No","v":16.74,"j":0.06},{"g":"SNCA","s":"No","v":16.61,"j":-0.04},{"g":"SNCA","s":"No","v":16.61,"j":0.18},{"g":"SNCA","s":"No","v":15.67,"j":0.04},{"g":"SNCA","s":"No","v":15.54,"j":-0.19},{"g":"SNCA","s":"No","v":14.81,"j":-0.11},{"g":"SNCA","s":"No","v":14.46,"j":-0.08},{"g":"SNCA","s":"No","v":13.65,"j":-0.12},{"g":"SNCA","s":"No","v":13.09,"j":-0.18},{"g":"SNCA","s":"No","v":12.79,"j":0.11},{"g":"SNCA","s":"No","v":12.75,"j":0.15},{"g":"SNCA","s":"No","v":12.36,"j":0.0},{"g":"SNCA","s":"No","v":12.15,"j":0.12},{"g":"SNCA","s":"No","v":11.67,"j":0.14},{"g":"SNCA","s":"No","v":10.17,"j":0.2},{"g":"SNCA","s":"No","v":9.87,"j":0.01},{"g":"SNCA","s":"No","v":9.31,"j":0.11},{"g":"SNCA","s":"No","v":8.67,"j":0.16},{"g":"SNCA","s":"No","v":8.88,"j":-0.02},{"g":"SNCA","s":"No","v":8.24,"j":-0.16},{"g":"SNCA","s":"No","v":8.24,"j":-0.12},{"g":"SNCA","s":"No","v":8.24,"j":-0.01},{"g":"SNCA","s":"No","v":7.38,"j":-0.07},{"g":"SNCA","s":"No","v":6.65,"j":-0.09},{"g":"SNCA","s":"No","v":6.44,"j":-0.01},
{"g":"SNCA","s":"Yes","v":21.03,"j":-0.01},{"g":"SNCA","s":"Yes","v":20.9,"j":0.07},{"g":"SNCA","s":"Yes","v":20.69,"j":-0.06},{"g":"SNCA","s":"Yes","v":20.39,"j":-0.05},{"g":"SNCA","s":"Yes","v":20.17,"j":0.03},{"g":"SNCA","s":"Yes","v":19.83,"j":-0.15},{"g":"SNCA","s":"Yes","v":19.83,"j":-0.1},{"g":"SNCA","s":"Yes","v":19.66,"j":-0.02},{"g":"SNCA","s":"Yes","v":19.83,"j":0.16},{"g":"SNCA","s":"Yes","v":19.53,"j":0.13},{"g":"SNCA","s":"Yes","v":19.4,"j":0.02},{"g":"SNCA","s":"Yes","v":19.31,"j":0.07},{"g":"SNCA","s":"Yes","v":19.18,"j":0.12},{"g":"SNCA","s":"Yes","v":18.88,"j":-0.18},{"g":"SNCA","s":"Yes","v":19.18,"j":-0.09},{"g":"SNCA","s":"Yes","v":18.76,"j":-0.04},{"g":"SNCA","s":"Yes","v":18.58,"j":-0.11},{"g":"SNCA","s":"Yes","v":18.67,"j":0.1},{"g":"SNCA","s":"Yes","v":18.33,"j":-0.16},{"g":"SNCA","s":"Yes","v":18.37,"j":0.02},{"g":"SNCA","s":"Yes","v":18.03,"j":0.08},{"g":"SNCA","s":"Yes","v":18.11,"j":-0.18},{"g":"SNCA","s":"Yes","v":17.68,"j":-0.07},{"g":"SNCA","s":"Yes","v":17.68,"j":0.0},{"g":"SNCA","s":"Yes","v":17.68,"j":0.04},{"g":"SNCA","s":"Yes","v":17.6,"j":-0.15},{"g":"SNCA","s":"Yes","v":17.38,"j":-0.03},{"g":"SNCA","s":"Yes","v":17.25,"j":-0.08},{"g":"SNCA","s":"Yes","v":17.17,"j":-0.2},{"g":"SNCA","s":"Yes","v":16.91,"j":0.01},{"g":"SNCA","s":"Yes","v":16.52,"j":-0.18},{"g":"SNCA","s":"Yes","v":16.74,"j":-0.05},{"g":"SNCA","s":"Yes","v":16.52,"j":0.06},{"g":"SNCA","s":"Yes","v":16.52,"j":0.15},{"g":"SNCA","s":"Yes","v":16.18,"j":0.0},{"g":"SNCA","s":"Yes","v":15.02,"j":-0.02},{"g":"SNCA","s":"Yes","v":11.46,"j":0.02},{"g":"SNCA","s":"Yes","v":10.0,"j":0.14},{"g":"SNCA","s":"Yes","v":8.37,"j":0.13}
]
},
"spacing":1,
"vconcat":[
{"spacing":0,"vconcat":[
{"spacing":36,"hconcat":[
{"width":180,"height":129,"title":"CACTIN, P= 0.000679, M= 3.06, N= 83",
 "encoding":{"x":{"field":"s","type":"nominal","title":null,"scale":{"type":"point","domain":["L","No","M","Yes","R"],"padding":0.16},"axis":{"labelExpr":"datum.value=='No'||datum.value=='Yes'?datum.label:''"}},
  "y":{"field":"v","type":"quantitative","title":"log2(iBAQ+1)","scale":{"domain":[7.45,22.0],"nice":false,"zero":false},"axis":{"values":[8,10,12,14,16,18,20],"labelExpr":"datum.value%4==0?datum.label:''"}}},
 "layer":[
  {"data":{"name":"box"},"transform":[{"filter":"datum.g=='CACTIN'"}],"mark":{"type":"rule","strokeDash":[4,3],"color":"#222","strokeWidth":1.2},"encoding":{"y":{"field":"lo","type":"quantitative","title":"log2(iBAQ+1)"},"y2":{"field":"hi"}}},
  {"data":{"name":"box"},"transform":[{"filter":"datum.g=='CACTIN'"}],"mark":{"type":"bar","width":66.67,"fill":"transparent","stroke":"#222","strokeWidth":1.3},"encoding":{"y":{"field":"lo","type":"quantitative","title":"log2(iBAQ+1)"},"y2":{"field":"lo"}}},
  {"data":{"name":"box"},"transform":[{"filter":"datum.g=='CACTIN'"}],"mark":{"type":"bar","width":66.67,"fill":"transparent","stroke":"#222","strokeWidth":1.3},"encoding":{"y":{"field":"hi","type":"quantitative","title":"log2(iBAQ+1)"},"y2":{"field":"hi"}}},
  {"data":{"name":"box"},"transform":[{"filter":"datum.g=='CACTIN'"}],"mark":{"type":"bar","width":66.67,"fill":"#d3d3d3","stroke":"#222","strokeWidth":1.2},"encoding":{"y":{"field":"q1","type":"quantitative","title":"log2(iBAQ+1)"},"y2":{"field":"q3"}}},
  {"data":{"name":"box"},"transform":[{"filter":"datum.g=='CACTIN'"}],"mark":{"type":"bar","width":66.67,"fill":"#000","stroke":"#000","strokeWidth":3},"encoding":{"y":{"field":"med","type":"quantitative","title":"log2(iBAQ+1)"},"y2":{"field":"med"}}},
  {"data":{"name":"out"},"transform":[{"filter":"datum.g=='CACTIN'"}],"mark":{"type":"point","shape":"circle","filled":false,"size":14,"color":"#000","strokeWidth":1}},
  {"data":{"name":"pts"},"transform":[{"filter":"datum.g=='CACTIN'"}],"mark":{"type":"circle","size":5,"opacity":1},"encoding":{"xOffset":{"field":"j","type":"quantitative","scale":{"domain":[-0.4,0.4],"range":[-33.33,33.33]}},"color":{"field":"s","type":"nominal","scale":{"domain":["No","Yes"],"range":["#000000","#ff0000"]},"legend":null}}}
 ]},
{"width":180,"height":129,"title":"ADSL, P= 0.00352, M= 2.38, N= 83",
 "encoding":{"x":{"field":"s","type":"nominal","title":null,"scale":{"type":"point","domain":["L","No","M","Yes","R"],"padding":0.16},"axis":{"labelExpr":"datum.value=='No'||datum.value=='Yes'?datum.label:''"}},
  "y":{"field":"v","type":"quantitative","title":null,"scale":{"domain":[5.93,18.4],"nice":false,"zero":false},"axis":{"values":[6,8,10,12,14,16,18],"labelExpr":"datum.value==12||datum.value==16?'':datum.label"}}},
 "layer":[
  {"data":{"name":"box"},"transform":[{"filter":"datum.g=='ADSL'"}],"mark":{"type":"rule","strokeDash":[4,3],"color":"#222","strokeWidth":1.2},"encoding":{"y":{"field":"lo","type":"quantitative","title":null},"y2":{"field":"hi"}}},
  {"data":{"name":"box"},"transform":[{"filter":"datum.g=='ADSL'"}],"mark":{"type":"bar","width":66.67,"fill":"transparent","stroke":"#222","strokeWidth":1.3},"encoding":{"y":{"field":"lo","type":"quantitative","title":null},"y2":{"field":"lo"}}},
  {"data":{"name":"box"},"transform":[{"filter":"datum.g=='ADSL'"}],"mark":{"type":"bar","width":66.67,"fill":"transparent","stroke":"#222","strokeWidth":1.3},"encoding":{"y":{"field":"hi","type":"quantitative","title":null},"y2":{"field":"hi"}}},
  {"data":{"name":"box"},"transform":[{"filter":"datum.g=='ADSL'"}],"mark":{"type":"bar","width":66.67,"fill":"#d3d3d3","stroke":"#222","strokeWidth":1.2},"encoding":{"y":{"field":"q1","type":"quantitative","title":null},"y2":{"field":"q3"}}},
  {"data":{"name":"box"},"transform":[{"filter":"datum.g=='ADSL'"}],"mark":{"type":"bar","width":66.67,"fill":"#000","stroke":"#000","strokeWidth":3},"encoding":{"y":{"field":"med","type":"quantitative","title":null},"y2":{"field":"med"}}},
  {"data":{"name":"pts"},"transform":[{"filter":"datum.g=='ADSL'"}],"mark":{"type":"circle","size":5,"opacity":1},"encoding":{"xOffset":{"field":"j","type":"quantitative","scale":{"domain":[-0.4,0.4],"range":[-33.33,33.33]}},"color":{"field":"s","type":"nominal","scale":{"domain":["No","Yes"],"range":["#000000","#ff0000"]},"legend":null}}}
 ]},
{"width":180,"height":129,"title":"RPS20, P= 0.00392, M= 1.86, N= 83",
 "encoding":{"x":{"field":"s","type":"nominal","title":null,"scale":{"type":"point","domain":["L","No","M","Yes","R"],"padding":0.16},"axis":{"labelExpr":"datum.value=='No'||datum.value=='Yes'?datum.label:''"}},
  "y":{"field":"v","type":"quantitative","title":null,"scale":{"domain":[5.36,17.05],"nice":false,"zero":false},"axis":{"values":[6,8,10,12,14,16],"labelExpr":"datum.value==12||datum.value==16?'':datum.label"}}},
 "layer":[
  {"data":{"name":"box"},"transform":[{"filter":"datum.g=='RPS20'"}],"mark":{"type":"rule","strokeDash":[4,3],"color":"#222","strokeWidth":1.2},"encoding":{"y":{"field":"lo","type":"quantitative","title":null},"y2":{"field":"hi"}}},
  {"data":{"name":"box"},"transform":[{"filter":"datum.g=='RPS20'"}],"mark":{"type":"bar","width":66.67,"fill":"transparent","stroke":"#222","strokeWidth":1.3},"encoding":{"y":{"field":"lo","type":"quantitative","title":null},"y2":{"field":"lo"}}},
  {"data":{"name":"box"},"transform":[{"filter":"datum.g=='RPS20'"}],"mark":{"type":"bar","width":66.67,"fill":"transparent","stroke":"#222","strokeWidth":1.3},"encoding":{"y":{"field":"hi","type":"quantitative","title":null},"y2":{"field":"hi"}}},
  {"data":{"name":"box"},"transform":[{"filter":"datum.g=='RPS20'"}],"mark":{"type":"bar","width":66.67,"fill":"#d3d3d3","stroke":"#222","strokeWidth":1.2},"encoding":{"y":{"field":"q1","type":"quantitative","title":null},"y2":{"field":"q3"}}},
  {"data":{"name":"box"},"transform":[{"filter":"datum.g=='RPS20'"}],"mark":{"type":"bar","width":66.67,"fill":"#000","stroke":"#000","strokeWidth":3},"encoding":{"y":{"field":"med","type":"quantitative","title":null},"y2":{"field":"med"}}},
  {"data":{"name":"out"},"transform":[{"filter":"datum.g=='RPS20'"}],"mark":{"type":"point","shape":"circle","filled":false,"size":14,"color":"#000","strokeWidth":1}},
  {"data":{"name":"pts"},"transform":[{"filter":"datum.g=='RPS20'"}],"mark":{"type":"circle","size":5,"opacity":1},"encoding":{"xOffset":{"field":"j","type":"quantitative","scale":{"domain":[-0.4,0.4],"range":[-33.33,33.33]}},"color":{"field":"s","type":"nominal","scale":{"domain":["No","Yes"],"range":["#000000","#ff0000"]},"legend":null}}}
 ]}
]},
{"spacing":36,"hconcat":[
{"width":180,"height":129,"title":"USP5, P= 0.00599, M= 2.75, N= 83",
 "encoding":{"x":{"field":"s","type":"nominal","title":null,"scale":{"type":"point","domain":["L","No","M","Yes","R"],"padding":0.16},"axis":{"labelExpr":"datum.value=='No'||datum.value=='Yes'?datum.label:''"}},
  "y":{"field":"v","type":"quantitative","title":"log2(iBAQ+1)","scale":{"domain":[5.3,18.45],"nice":false,"zero":false},"axis":{"values":[6,8,10,12,14,16,18],"labelExpr":"datum.value==12||datum.value==16?'':datum.label"}}},
 "layer":[
  {"data":{"name":"box"},"transform":[{"filter":"datum.g=='USP5'"}],"mark":{"type":"rule","strokeDash":[4,3],"color":"#222","strokeWidth":1.2},"encoding":{"y":{"field":"lo","type":"quantitative","title":"log2(iBAQ+1)"},"y2":{"field":"hi"}}},
  {"data":{"name":"box"},"transform":[{"filter":"datum.g=='USP5'"}],"mark":{"type":"bar","width":66.67,"fill":"transparent","stroke":"#222","strokeWidth":1.3},"encoding":{"y":{"field":"lo","type":"quantitative","title":"log2(iBAQ+1)"},"y2":{"field":"lo"}}},
  {"data":{"name":"box"},"transform":[{"filter":"datum.g=='USP5'"}],"mark":{"type":"bar","width":66.67,"fill":"transparent","stroke":"#222","strokeWidth":1.3},"encoding":{"y":{"field":"hi","type":"quantitative","title":"log2(iBAQ+1)"},"y2":{"field":"hi"}}},
  {"data":{"name":"box"},"transform":[{"filter":"datum.g=='USP5'"}],"mark":{"type":"bar","width":66.67,"fill":"#d3d3d3","stroke":"#222","strokeWidth":1.2},"encoding":{"y":{"field":"q1","type":"quantitative","title":"log2(iBAQ+1)"},"y2":{"field":"q3"}}},
  {"data":{"name":"box"},"transform":[{"filter":"datum.g=='USP5'"}],"mark":{"type":"bar","width":66.67,"fill":"#000","stroke":"#000","strokeWidth":3},"encoding":{"y":{"field":"med","type":"quantitative","title":"log2(iBAQ+1)"},"y2":{"field":"med"}}},
  {"data":{"name":"pts"},"transform":[{"filter":"datum.g=='USP5'"}],"mark":{"type":"circle","size":5,"opacity":1},"encoding":{"xOffset":{"field":"j","type":"quantitative","scale":{"domain":[-0.4,0.4],"range":[-33.33,33.33]}},"color":{"field":"s","type":"nominal","scale":{"domain":["No","Yes"],"range":["#000000","#ff0000"]},"legend":null}}}
 ]},
{"width":180,"height":129,"title":"APEH, P= 0.00631, M= 1.68, N= 83",
 "encoding":{"x":{"field":"s","type":"nominal","title":null,"scale":{"type":"point","domain":["L","No","M","Yes","R"],"padding":0.16},"axis":{"labelExpr":"datum.value=='No'||datum.value=='Yes'?datum.label:''"}},
  "y":{"field":"v","type":"quantitative","title":null,"scale":{"domain":[9.64,21.04],"nice":false,"zero":false},"axis":{"values":[10,12,14,16,18,20]}}},
 "layer":[
  {"data":{"name":"box"},"transform":[{"filter":"datum.g=='APEH'"}],"mark":{"type":"rule","strokeDash":[4,3],"color":"#222","strokeWidth":1.2},"encoding":{"y":{"field":"lo","type":"quantitative","title":null},"y2":{"field":"hi"}}},
  {"data":{"name":"box"},"transform":[{"filter":"datum.g=='APEH'"}],"mark":{"type":"bar","width":66.67,"fill":"transparent","stroke":"#222","strokeWidth":1.3},"encoding":{"y":{"field":"lo","type":"quantitative","title":null},"y2":{"field":"lo"}}},
  {"data":{"name":"box"},"transform":[{"filter":"datum.g=='APEH'"}],"mark":{"type":"bar","width":66.67,"fill":"transparent","stroke":"#222","strokeWidth":1.3},"encoding":{"y":{"field":"hi","type":"quantitative","title":null},"y2":{"field":"hi"}}},
  {"data":{"name":"box"},"transform":[{"filter":"datum.g=='APEH'"}],"mark":{"type":"bar","width":66.67,"fill":"#d3d3d3","stroke":"#222","strokeWidth":1.2},"encoding":{"y":{"field":"q1","type":"quantitative","title":null},"y2":{"field":"q3"}}},
  {"data":{"name":"box"},"transform":[{"filter":"datum.g=='APEH'"}],"mark":{"type":"bar","width":66.67,"fill":"#000","stroke":"#000","strokeWidth":3},"encoding":{"y":{"field":"med","type":"quantitative","title":null},"y2":{"field":"med"}}},
  {"data":{"name":"out"},"transform":[{"filter":"datum.g=='APEH'"}],"mark":{"type":"point","shape":"circle","filled":false,"size":14,"color":"#000","strokeWidth":1}},
  {"data":{"name":"pts"},"transform":[{"filter":"datum.g=='APEH'"}],"mark":{"type":"circle","size":5,"opacity":1},"encoding":{"xOffset":{"field":"j","type":"quantitative","scale":{"domain":[-0.4,0.4],"range":[-33.33,33.33]}},"color":{"field":"s","type":"nominal","scale":{"domain":["No","Yes"],"range":["#000000","#ff0000"]},"legend":null}}}
 ]},
{"width":180,"height":129,"title":"SND1, P= 0.00759, M= 1.56, N= 83",
 "encoding":{"x":{"field":"s","type":"nominal","title":null,"scale":{"type":"point","domain":["L","No","M","Yes","R"],"padding":0.16},"axis":{"labelExpr":"datum.value=='No'||datum.value=='Yes'?datum.label:''"}},
  "y":{"field":"v","type":"quantitative","title":null,"scale":{"domain":[5.44,15.04],"nice":false,"zero":false},"axis":{"values":[6,8,10,12,14]}}},
 "layer":[
  {"data":{"name":"box"},"transform":[{"filter":"datum.g=='SND1'"}],"mark":{"type":"rule","strokeDash":[4,3],"color":"#222","strokeWidth":1.2},"encoding":{"y":{"field":"lo","type":"quantitative","title":null},"y2":{"field":"hi"}}},
  {"data":{"name":"box"},"transform":[{"filter":"datum.g=='SND1'"}],"mark":{"type":"bar","width":66.67,"fill":"transparent","stroke":"#222","strokeWidth":1.3},"encoding":{"y":{"field":"lo","type":"quantitative","title":null},"y2":{"field":"lo"}}},
  {"data":{"name":"box"},"transform":[{"filter":"datum.g=='SND1'"}],"mark":{"type":"bar","width":66.67,"fill":"transparent","stroke":"#222","strokeWidth":1.3},"encoding":{"y":{"field":"hi","type":"quantitative","title":null},"y2":{"field":"hi"}}},
  {"data":{"name":"box"},"transform":[{"filter":"datum.g=='SND1'"}],"mark":{"type":"bar","width":66.67,"fill":"#d3d3d3","stroke":"#222","strokeWidth":1.2},"encoding":{"y":{"field":"q1","type":"quantitative","title":null},"y2":{"field":"q3"}}},
  {"data":{"name":"box"},"transform":[{"filter":"datum.g=='SND1'"}],"mark":{"type":"bar","width":66.67,"fill":"#000","stroke":"#000","strokeWidth":3},"encoding":{"y":{"field":"med","type":"quantitative","title":null},"y2":{"field":"med"}}},
  {"data":{"name":"out"},"transform":[{"filter":"datum.g=='SND1'"}],"mark":{"type":"point","shape":"circle","filled":false,"size":14,"color":"#000","strokeWidth":1}},
  {"data":{"name":"pts"},"transform":[{"filter":"datum.g=='SND1'"}],"mark":{"type":"circle","size":5,"opacity":1},"encoding":{"xOffset":{"field":"j","type":"quantitative","scale":{"domain":[-0.4,0.4],"range":[-33.33,33.33]}},"color":{"field":"s","type":"nominal","scale":{"domain":["No","Yes"],"range":["#000000","#ff0000"]},"legend":null}}}
 ]}
]}
]},
{"spacing":36,"hconcat":[
{"width":180,"height":129,"title":"CAND1, P= 0.00855, M= 1.52, N= 83",
 "encoding":{"x":{"field":"s","type":"nominal","title":null,"scale":{"type":"point","domain":["L","No","M","Yes","R"],"padding":0.16},"axis":{"labelExpr":"datum.value=='No'||datum.value=='Yes'?datum.label:''"}},
  "y":{"field":"v","type":"quantitative","title":"log2(iBAQ+1)","scale":{"domain":[8.0,17.25],"nice":false,"zero":false},"axis":{"values":[8,10,12,14,16]}}},
 "layer":[
  {"data":{"name":"box"},"transform":[{"filter":"datum.g=='CAND1'"}],"mark":{"type":"rule","strokeDash":[4,3],"color":"#222","strokeWidth":1.2},"encoding":{"y":{"field":"lo","type":"quantitative","title":"log2(iBAQ+1)"},"y2":{"field":"hi"}}},
  {"data":{"name":"box"},"transform":[{"filter":"datum.g=='CAND1'"}],"mark":{"type":"bar","width":66.67,"fill":"transparent","stroke":"#222","strokeWidth":1.3},"encoding":{"y":{"field":"lo","type":"quantitative","title":"log2(iBAQ+1)"},"y2":{"field":"lo"}}},
  {"data":{"name":"box"},"transform":[{"filter":"datum.g=='CAND1'"}],"mark":{"type":"bar","width":66.67,"fill":"transparent","stroke":"#222","strokeWidth":1.3},"encoding":{"y":{"field":"hi","type":"quantitative","title":"log2(iBAQ+1)"},"y2":{"field":"hi"}}},
  {"data":{"name":"box"},"transform":[{"filter":"datum.g=='CAND1'"}],"mark":{"type":"bar","width":66.67,"fill":"#d3d3d3","stroke":"#222","strokeWidth":1.2},"encoding":{"y":{"field":"q1","type":"quantitative","title":"log2(iBAQ+1)"},"y2":{"field":"q3"}}},
  {"data":{"name":"box"},"transform":[{"filter":"datum.g=='CAND1'"}],"mark":{"type":"bar","width":66.67,"fill":"#000","stroke":"#000","strokeWidth":3},"encoding":{"y":{"field":"med","type":"quantitative","title":"log2(iBAQ+1)"},"y2":{"field":"med"}}},
  {"data":{"name":"pts"},"transform":[{"filter":"datum.g=='CAND1'"}],"mark":{"type":"circle","size":5,"opacity":1},"encoding":{"xOffset":{"field":"j","type":"quantitative","scale":{"domain":[-0.4,0.4],"range":[-33.33,33.33]}},"color":{"field":"s","type":"nominal","scale":{"domain":["No","Yes"],"range":["#000000","#ff0000"]},"legend":null}}}
 ]},
{"width":180,"height":129,"title":"HP, P= 0.00867, M= 2.04, N= 83",
 "encoding":{"x":{"field":"s","type":"nominal","title":null,"scale":{"type":"point","domain":["L","No","M","Yes","R"],"padding":0.16},"axis":{"labelExpr":"datum.value=='No'||datum.value=='Yes'?datum.label:''"}},
  "y":{"field":"v","type":"quantitative","title":null,"scale":{"domain":[8.78,23.75],"nice":false,"zero":false},"axis":{"values":[10,12,14,16,18,20,22],"labelExpr":"(datum.value-10)%4==0?datum.label:''"}}},
 "layer":[
  {"data":{"name":"box"},"transform":[{"filter":"datum.g=='HP'"}],"mark":{"type":"rule","strokeDash":[4,3],"color":"#222","strokeWidth":1.2},"encoding":{"y":{"field":"lo","type":"quantitative","title":null},"y2":{"field":"hi"}}},
  {"data":{"name":"box"},"transform":[{"filter":"datum.g=='HP'"}],"mark":{"type":"bar","width":66.67,"fill":"transparent","stroke":"#222","strokeWidth":1.3},"encoding":{"y":{"field":"lo","type":"quantitative","title":null},"y2":{"field":"lo"}}},
  {"data":{"name":"box"},"transform":[{"filter":"datum.g=='HP'"}],"mark":{"type":"bar","width":66.67,"fill":"transparent","stroke":"#222","strokeWidth":1.3},"encoding":{"y":{"field":"hi","type":"quantitative","title":null},"y2":{"field":"hi"}}},
  {"data":{"name":"box"},"transform":[{"filter":"datum.g=='HP'"}],"mark":{"type":"bar","width":66.67,"fill":"#d3d3d3","stroke":"#222","strokeWidth":1.2},"encoding":{"y":{"field":"q1","type":"quantitative","title":null},"y2":{"field":"q3"}}},
  {"data":{"name":"box"},"transform":[{"filter":"datum.g=='HP'"}],"mark":{"type":"bar","width":66.67,"fill":"#000","stroke":"#000","strokeWidth":3},"encoding":{"y":{"field":"med","type":"quantitative","title":null},"y2":{"field":"med"}}},
  {"data":{"name":"out"},"transform":[{"filter":"datum.g=='HP'"}],"mark":{"type":"point","shape":"circle","filled":false,"size":14,"color":"#000","strokeWidth":1}},
  {"data":{"name":"pts"},"transform":[{"filter":"datum.g=='HP'"}],"mark":{"type":"circle","size":5,"opacity":1},"encoding":{"xOffset":{"field":"j","type":"quantitative","scale":{"domain":[-0.4,0.4],"range":[-33.33,33.33]}},"color":{"field":"s","type":"nominal","scale":{"domain":["No","Yes"],"range":["#000000","#ff0000"]},"legend":null}}}
 ]},
{"width":180,"height":129,"title":"SNCA, P= 0.00883, M= 3.01, N= 83",
 "encoding":{"x":{"field":"s","type":"nominal","title":null,"scale":{"type":"point","domain":["L","No","M","Yes","R"],"padding":0.16},"axis":{"labelExpr":"datum.value=='No'||datum.value=='Yes'?datum.label:''"}},
  "y":{"field":"v","type":"quantitative","title":null,"scale":{"domain":[5.83,22.24],"nice":false,"zero":false},"axis":{"values":[10,15,20]}}},
 "layer":[
  {"data":{"name":"box"},"transform":[{"filter":"datum.g=='SNCA'"}],"mark":{"type":"rule","strokeDash":[4,3],"color":"#222","strokeWidth":1.2},"encoding":{"y":{"field":"lo","type":"quantitative","title":null},"y2":{"field":"hi"}}},
  {"data":{"name":"box"},"transform":[{"filter":"datum.g=='SNCA'"}],"mark":{"type":"bar","width":66.67,"fill":"transparent","stroke":"#222","strokeWidth":1.3},"encoding":{"y":{"field":"lo","type":"quantitative","title":null},"y2":{"field":"lo"}}},
  {"data":{"name":"box"},"transform":[{"filter":"datum.g=='SNCA'"}],"mark":{"type":"bar","width":66.67,"fill":"transparent","stroke":"#222","strokeWidth":1.3},"encoding":{"y":{"field":"hi","type":"quantitative","title":null},"y2":{"field":"hi"}}},
  {"data":{"name":"box"},"transform":[{"filter":"datum.g=='SNCA'"}],"mark":{"type":"bar","width":66.67,"fill":"#d3d3d3","stroke":"#222","strokeWidth":1.2},"encoding":{"y":{"field":"q1","type":"quantitative","title":null},"y2":{"field":"q3"}}},
  {"data":{"name":"box"},"transform":[{"filter":"datum.g=='SNCA'"}],"mark":{"type":"bar","width":66.67,"fill":"#000","stroke":"#000","strokeWidth":3},"encoding":{"y":{"field":"med","type":"quantitative","title":null},"y2":{"field":"med"}}},
  {"data":{"name":"out"},"transform":[{"filter":"datum.g=='SNCA'"}],"mark":{"type":"point","shape":"circle","filled":false,"size":14,"color":"#000","strokeWidth":1}},
  {"data":{"name":"pts"},"transform":[{"filter":"datum.g=='SNCA'"}],"mark":{"type":"circle","size":5,"opacity":1},"encoding":{"xOffset":{"field":"j","type":"quantitative","scale":{"domain":[-0.4,0.4],"range":[-33.33,33.33]}},"color":{"field":"s","type":"nominal","scale":{"domain":["No","Yes"],"range":["#000000","#ff0000"]},"legend":null}}}
 ]}
]}
]
}
